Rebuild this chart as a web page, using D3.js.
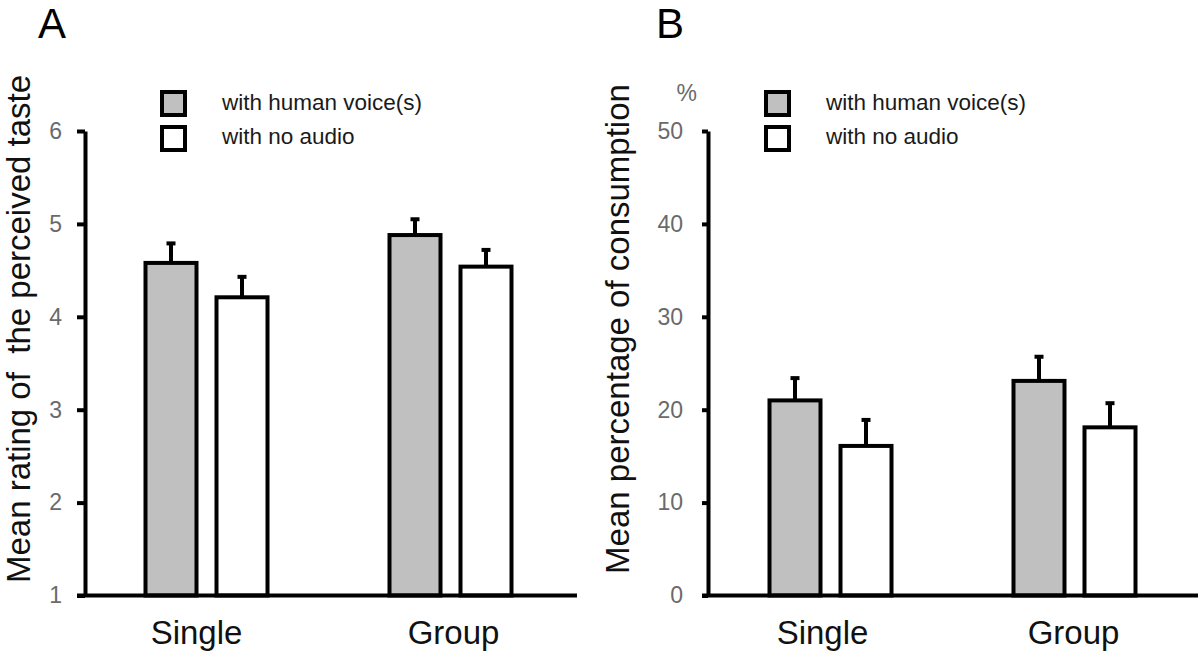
<!DOCTYPE html>
<html>
<head>
<meta charset="utf-8">
<script src="https://cdn.jsdelivr.net/npm/d3@7"></script>
<style>
  html, body { margin: 0; padding: 0; background: #fff; }
  svg { display: block; font-family: "Liberation Sans", Arial, sans-serif; }
</style>
</head>
<body>
<svg id="chart" width="1200" height="660"></svg>
<script>
// ---- data ----
const categories = ["Single", "Group"];
const seriesNames = ["with human voice(s)", "with no audio"];
const seriesFills = ["#c0c0c0", "#ffffff"];

// Panel A: mean rating of the perceived taste
const tasteHuman = [4.58, 4.88];
const tasteHumanErr = [0.21, 0.17];
const tasteNoAudio = [4.21, 4.54];
const tasteNoAudioErr = [0.22, 0.18];
const tasteTicks = [1, 2, 3, 4, 5, 6];

// Panel B: mean percentage of consumption
const consHuman = [21.0, 23.1];
const consHumanErr = [2.4, 2.6];
const consNoAudio = [16.1, 18.1];
const consNoAudioErr = [2.8, 2.6];
const consTicks = [0, 10, 20, 30, 40, 50];

const svg = d3.select("#chart");

function panel(opts) {
  const g = svg.append("g");
  const y = d3.scaleLinear().domain(opts.domain).range([595.5, 131]);
  const x0 = d3.scaleBand().domain(categories).range(opts.xRange).padding(0);
  const x1 = d3.scaleBand().domain(seriesNames).range([-71, 71]).padding(0);
  const barW = 51;

  const rows = [];
  categories.forEach((c, i) => {
    rows.push({cat: c, s: seriesNames[0], v: opts.values[0][i], e: opts.errors[0][i], fill: seriesFills[0]});
    rows.push({cat: c, s: seriesNames[1], v: opts.values[1][i], e: opts.errors[1][i], fill: seriesFills[1]});
  });
  const cx = d => x0(d.cat) + x0.bandwidth() / 2 + x1(d.s) + x1.bandwidth() / 2;

  // error bars
  g.selectAll(".err").data(rows).join("line")
    .attr("x1", cx).attr("x2", cx)
    .attr("y1", d => y(d.v)).attr("y2", d => y(d.v + d.e))
    .attr("stroke", "#000").attr("stroke-width", 4);
  g.selectAll(".cap").data(rows).join("line")
    .attr("x1", d => cx(d) - 4.5).attr("x2", d => cx(d) + 4.5)
    .attr("y1", d => y(d.v + d.e)).attr("y2", d => y(d.v + d.e))
    .attr("stroke", "#000").attr("stroke-width", 4);

  // bars
  g.selectAll(".bar").data(rows).join("rect")
    .attr("x", d => cx(d) - barW / 2)
    .attr("width", barW)
    .attr("y", d => y(d.v))
    .attr("height", d => y(opts.domain[0]) - y(d.v))
    .attr("fill", d => d.fill)
    .attr("stroke", "#000").attr("stroke-width", 4);

  // y axis
  const ax = g.append("g")
    .attr("transform", `translate(${opts.axisX},0)`)
    .call(d3.axisLeft(y).tickValues(opts.ticks).tickFormat(d3.format("d"))
      .tickSize(opts.tickLen).tickSizeOuter(0).tickPadding(opts.tickPad));
  ax.select(".domain").attr("stroke", "#000").attr("stroke-width", 4);
  ax.selectAll(".tick line").attr("stroke", "#000").attr("stroke-width", 4);
  ax.selectAll(".tick text").attr("font-size", 23).attr("fill", "#6a6a6a")
    .attr("font-family", "Liberation Sans, Arial, sans-serif");

  // x baseline
  g.append("line")
    .attr("x1", opts.axisX - opts.tickLen).attr("x2", opts.xEnd)
    .attr("y1", y(opts.domain[0])).attr("y2", y(opts.domain[0]))
    .attr("stroke", "#000").attr("stroke-width", 4);

  // category labels
  g.selectAll(".cat").data(categories).join("text")
    .attr("x", (c, i) => x0(c) + x0.bandwidth() / 2 + opts.labelShift[i])
    .attr("y", 644)
    .attr("text-anchor", "middle")
    .attr("font-size", 33)
    .attr("fill", "#111")
    .text(c => c);

  // y title
  g.append("text")
    .attr("transform", `translate(${opts.titleX},${opts.titleY}) rotate(-90)`)
    .attr("text-anchor", "middle")
    .attr("font-size", 33)
    .attr("fill", "#111")
    .attr("xml:space", "preserve")
    .style("white-space", "pre")
    .text(opts.title);

  // panel letter
  g.append("text")
    .attr("x", opts.letterX).attr("y", 38)
    .attr("font-size", 42).attr("fill", "#000")
    .text(opts.letter);

  // legend
  seriesNames.forEach((s, i) => {
    g.append("rect")
      .attr("x", opts.legX).attr("y", 92 + i * 35)
      .attr("width", 23).attr("height", 23)
      .attr("fill", seriesFills[i]).attr("stroke", "#000").attr("stroke-width", 4);
    g.append("text")
      .attr("x", opts.legX + 60).attr("y", 110 + i * 34)
      .attr("font-size", 22.5).attr("fill", "#1a1a1a")
      .text(s);
  });

  return g;
}

panel({
  domain: [1, 6], ticks: tasteTicks,
  values: [tasteHuman, tasteNoAudio], errors: [tasteHumanErr, tasteNoAudioErr],
  xRange: [84.5, 572.5], axisX: 85, xEnd: 577, tickLen: 8, tickPad: 15,
  labelShift: [-10, 3],
  title: "Mean rating of  the perceived taste", titleX: 30, titleY: 329,
  letter: "A", letterX: 38, legX: 162
});

const pB = panel({
  domain: [0, 50], ticks: consTicks,
  values: [consHuman, consNoAudio], errors: [consHumanErr, consNoAudioErr],
  xRange: [708.5, 1196.5], axisX: 708, xEnd: 1198, tickLen: 6, tickPad: 19,
  labelShift: [-8, -1],
  title: "Mean percentage of consumption", titleX: 629, titleY: 329,
  letter: "B", letterX: 656, legX: 766
});

pB.append("text")
  .attr("x", 697).attr("y", 101)
  .attr("text-anchor", "end")
  .attr("font-size", 23).attr("fill", "#6a6a6a")
  .text("%");
</script>
</body>
</html>
